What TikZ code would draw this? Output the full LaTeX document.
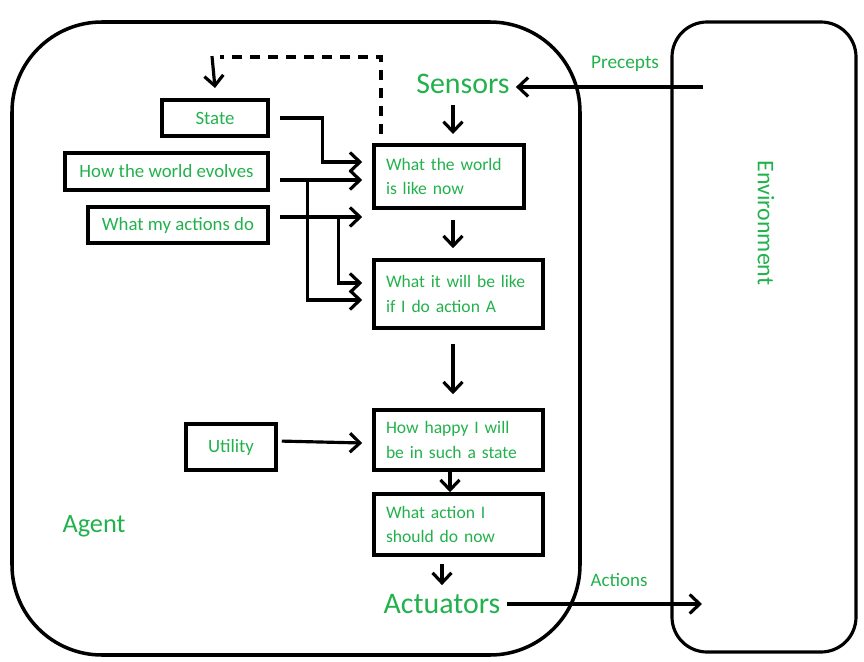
\documentclass[tikz,border=0pt]{standalone}
\usepackage{fontspec}
\setmainfont{Carlito}
\usetikzlibrary{arrows.meta}
\definecolor{lblgreen}{RGB}{34,177,76}

\begin{document}
\begin{tikzpicture}[
  x=0.2mm, y=0.2mm,
  font=\fontsize{10}{14}\selectfont,
  frame/.style={draw=black, line width=2pt},
  inbox/.style={rectangle, draw=black, line width=2pt, inner sep=0pt,
                text=lblgreen, align=center, font=\fontsize{10.7}{14}\selectfont},
  stagebox/.style={rectangle, draw=black, line width=2pt, inner xsep=2.4mm,
                   inner ysep=0pt, text=lblgreen, align=left},
  big/.style={text=lblgreen, font=\fontsize{17}{20}\selectfont},
  tag/.style={text=lblgreen, font=\fontsize{11}{13}\selectfont},
  flow/.style={line width=1.8pt, -{Straight Barb[length=2mm, width=3.8mm]}}
]
\useasboundingbox (0,0) rectangle (864,-662);

% ---- agent and environment ----
\draw[frame, rounded corners=18mm] (12,-22) rectangle (580,-655);
\draw[frame, line width=1.8pt, rounded corners=7mm] (672,-22) rectangle (856,-652);
\node[big, font=\fontsize{13.6}{16}\selectfont, rotate=-90] (env) at (766,-223) {Environment};
\node[big, font=\fontsize{15}{18}\selectfont] (agent) at (94,-526) {Agent};

% ---- sensors / actuators ----
\node[big] (sensors) at (463,-84) {Sensors};
\node[big] (actuators) at (442,-604) {Actuators};
\node[tag] (precepts) at (625,-64) {Precepts};
\node[tag, font=\fontsize{10.8}{13}\selectfont] (actions) at (619,-580) {Actions};

% ---- input boxes (name/x/y/width/text) ----
\foreach \n/\x/\y/\w/\t in {state/215/-118/21.2/State,
                            evolves/166.5/-171.5/40.6/How the world evolves,
                            actdo/178/-225/36/What my actions do} {
  \node[inbox, minimum width=\w mm, minimum height=7.3mm] (\n) at (\x,\y) {\t};
}
\node[inbox, minimum width=18mm, minimum height=9.2mm] (utility) at (231,-447) {Utility};

% ---- stage boxes ----
\node[stagebox, text width=25.2mm, minimum height=12.6mm] (now) at (449,-176.5)
  {What the world\\is like now};
\node[stagebox, text width=29mm, minimum height=13.6mm] (future) at (458.5,-294)
  {What it will be like\\if I do action A};
\node[stagebox, text width=29mm, minimum height=12mm] (happy) at (458.5,-440)
  {How happy I will\\be in such a state};
\node[stagebox, text width=29mm, minimum height=12.2mm] (decide) at (458.5,-524.5)
  {What action I\\should do now};

% ---- connectors ----
\coordinate (pin) at (703,-87);
\coordinate (pout) at (702,-607);
\coordinate (evo) at ([shift={(0,-8.5)}]evolves.east);
\coordinate (act) at ([shift={(0,8)}]actdo.east);
\coordinate (fb) at (212,-57);

\draw[flow] (pin) -- (pin -| sensors.east);
\draw[flow] (actuators.east) -- (actuators.east -| pout);

% feedback loop back to the state
\draw[line width=1.8pt, dash pattern=on 2mm off 1.6mm]
  ([shift={(-68,9)}]now.north) |- ([shift={(8,0)}]fb);
\draw[flow] ([shift={(0,0.9)}]fb) -- ([shift={(0,10)}]state.north);

\draw[flow, shorten <=1mm, shorten >=1.6mm] ([shift={(-10,0)}]sensors.south) -- ++(0,-42);
\draw[flow, shorten <=2mm] (state.east) -- ++(53,0) |- ([shift={(-10,14.5)}]now.west);
\draw[flow, shorten <=2mm, shorten >=2mm] (evo) -- (evo -| now.west);
\draw[flow] ([shift={(38,0)}]evo) |- ([shift={(-10,-6)}]future.west);
\draw[flow, shorten <=2mm, shorten >=2mm] (act) -- (act -| now.west);
\draw[flow] ([shift={(69,0)}]act) |- ([shift={(-10,11)}]future.west);

\draw[flow, shorten <=2mm, shorten >=2mm] ([shift={(4,0)}]now.south) -- ([shift={(-5.5,0)}]future.north);
\draw[flow, shorten <=2.8mm, shorten >=2.8mm] ([shift={(-5.5,0)}]future.south) -- ([shift={(-5.5,0)}]happy.north);
\draw[flow, shorten <=0.8mm] ([shift={(0,6)}]utility.east) -- ([shift={(-10,-3)}]happy.west);
\draw[flow] ([shift={(-8.5,0)}]happy.south) -- ([shift={(-8.5,0)}]decide.north);
\draw[flow, shorten <=1.4mm, shorten >=0.6mm] ([shift={(-16.5,0)}]decide.south) -- (actuators.north);

\end{tikzpicture}
\end{document}
